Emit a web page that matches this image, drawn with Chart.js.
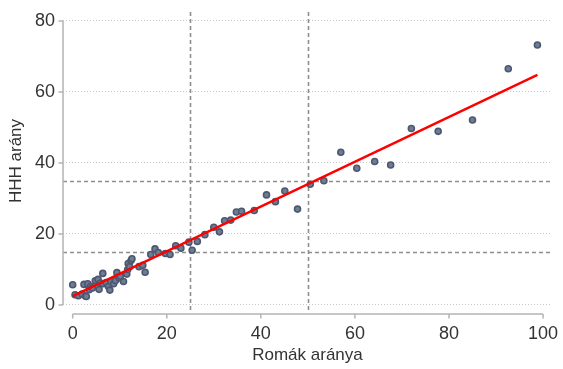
<!DOCTYPE html>
<html>
<head>
<meta charset="utf-8">
<script src="https://cdn.jsdelivr.net/npm/chart.js@4.4.1/dist/chart.umd.min.js"></script>
<style>
  html, body { margin: 0; padding: 0; background: #ffffff; }
  #wrap { width: 563px; height: 369px; }
</style>
</head>
<body>
<div id="wrap"><canvas id="c" width="563" height="369"></canvas></div>
<script>
// ---- data ----
const romaShare = [0.0, 0.5, 1.2, 2.0, 2.7, 2.9, 2.4, 3.2, 3.8, 3.5, 4.2, 4.8, 5.4, 5.6, 5.9, 6.4, 6.5, 7.1, 7.6, 7.9,
  8.1, 8.7, 9.1, 9.4, 9.9, 10.8, 10.1, 11.5, 11.7, 11.8, 12.1, 12.4, 12.6, 14.1, 14.9, 15.4, 16.6, 17.5, 18.2, 19.7,
  20.7, 21.9, 23.0, 24.7, 25.4, 26.5, 28.1, 30.0, 31.2, 32.3, 33.6, 34.8, 35.9, 38.6, 41.2, 43.1, 45.1, 47.8, 50.5,
  53.4, 57.0, 60.4, 64.2, 67.6, 72.0, 77.7, 85.0, 92.6, 98.8];
const hhhShare = [5.7, 2.9, 2.6, 3.1, 2.5, 2.4, 5.8, 6.0, 5.2, 4.3, 4.8, 6.8, 7.2, 4.4, 6.2, 8.9, 6.0, 6.3, 5.2, 4.2,
  6.6, 6.0, 6.9, 9.1, 7.6, 6.6, 8.1, 8.7, 10.0, 11.7, 10.8, 12.5, 13.0, 10.8, 11.2, 9.2, 14.2, 15.8, 14.8, 14.5,
  14.2, 16.7, 16.0, 17.7, 15.4, 17.9, 19.8, 21.9, 20.6, 23.7, 23.9, 26.2, 26.4, 26.6, 31.0, 29.1, 32.1, 27.0, 34.0,
  35.0, 43.0, 38.5, 40.4, 39.4, 49.7, 48.9, 52.1, 66.5, 73.2];
const fitX = [0, 98.8];
const fitY = [2.5, 64.8];
const xTicks = [0, 20, 40, 60, 80, 100];
const yTicks = [0, 20, 40, 60, 80];
const refX = [25, 50];
const refY = [15, 35];
const xTitle = 'Romák aránya';
const yTitle = 'HHH arány';

const FONT = "'Liberation Sans', Arial, sans-serif";
const AXIS_COLOR = '#b4b4b4';

const points = romaShare.map((x, i) => ({ x: x, y: hhhShare[i] }));
const fitLine = fitX.map((x, i) => ({ x: x, y: fitY[i] }));

const stataAxes = {
  id: 'stataAxes',
  beforeDatasetsDraw(chart) {
    const ctx = chart.ctx, a = chart.chartArea;
    const xs = chart.scales.x, ys = chart.scales.y;
    ctx.save();
    ctx.strokeStyle = '#8e8e8e';
    ctx.lineWidth = 1.6;
    ctx.setLineDash([4, 3]);
    refX.forEach(v => {
      const px = Math.round(xs.getPixelForValue(v)) + 0.5;
      ctx.beginPath(); ctx.moveTo(px, a.top); ctx.lineTo(px, a.bottom); ctx.stroke();
    });
    refY.forEach(v => {
      const py = Math.round(ys.getPixelForValue(v)) + 0.5;
      ctx.beginPath(); ctx.moveTo(a.left, py); ctx.lineTo(a.right, py); ctx.stroke();
    });
    ctx.restore();
  },
  afterDraw(chart) {
    const ctx = chart.ctx, a = chart.chartArea;
    const xs = chart.scales.x, ys = chart.scales.y;
    ctx.save();
    ctx.strokeStyle = AXIS_COLOR;
    ctx.lineWidth = 1.5;
    ctx.setLineDash([]);
    // y axis
    const yx = a.left;
    ctx.beginPath();
    ctx.moveTo(yx, ys.getPixelForValue(yTicks[yTicks.length - 1]));
    ctx.lineTo(yx, ys.getPixelForValue(yTicks[0]));
    yTicks.forEach(v => {
      const py = ys.getPixelForValue(v);
      ctx.moveTo(yx, py); ctx.lineTo(yx - 4.5, py);
    });
    ctx.stroke();
    // x axis
    const xy = a.bottom + 4;
    ctx.beginPath();
    ctx.moveTo(xs.getPixelForValue(xTicks[0]), xy);
    ctx.lineTo(xs.getPixelForValue(xTicks[xTicks.length - 1]), xy);
    xTicks.forEach(v => {
      const px = xs.getPixelForValue(v);
      ctx.moveTo(px, xy); ctx.lineTo(px, xy + 4.5);
    });
    ctx.stroke();
    ctx.restore();
  }
};

new Chart(document.getElementById('c'), {
  data: {
    datasets: [
      {
        type: 'line',
        data: fitLine,
        borderColor: '#ff0000',
        borderWidth: 2.4,
        pointRadius: 0,
        fill: false,
        order: 1
      },
      {
        type: 'scatter',
        data: points,
        pointRadius: 3,
        pointBackgroundColor: '#6f7c94',
        pointBorderColor: '#4b5870',
        pointBorderWidth: 1.6,
        order: 2
      }
    ]
  },
  options: {
    responsive: false,
    animation: false,
    devicePixelRatio: 1,
    layout: { padding: { top: 12, right: 11, left: 0, bottom: 0 } },
    plugins: { legend: { display: false }, tooltip: { enabled: false } },
    scales: {
      x: {
        type: 'linear',
        min: -2.06,
        max: 101.9,
        afterBuildTicks: s => { s.ticks = xTicks.map(v => ({ value: v })); },
        afterFit: s => { s.height = 59; s.paddingLeft = 0; s.paddingRight = 0; },
        grid: { display: false, drawTicks: false },
        border: { display: false },
        ticks: { color: '#333333', font: { family: FONT, size: 18 }, padding: 13, maxRotation: 0, autoSkip: false },
        title: { display: true, text: xTitle, color: '#333333', font: { family: FONT, size: 17 }, padding: { top: 0, bottom: 3 } }
      },
      y: {
        type: 'linear',
        min: -1.41,
        max: 82.5,
        afterBuildTicks: s => { s.ticks = yTicks.map(v => ({ value: v })); },
        afterFit: s => { s.width = 63; s.paddingTop = 0; s.paddingBottom = 0; },
        grid: { display: true, drawTicks: false, color: '#c8c8c8', lineWidth: 1 },
        border: { display: false, dash: [1, 2] },
        ticks: { color: '#333333', font: { family: FONT, size: 18 }, padding: 8, autoSkip: false },
        title: { display: true, text: yTitle, color: '#333333', font: { family: FONT, size: 17 }, padding: { top: 6, bottom: 0 } }
      }
    }
  },
  plugins: [stataAxes]
});
</script>
</body>
</html>
